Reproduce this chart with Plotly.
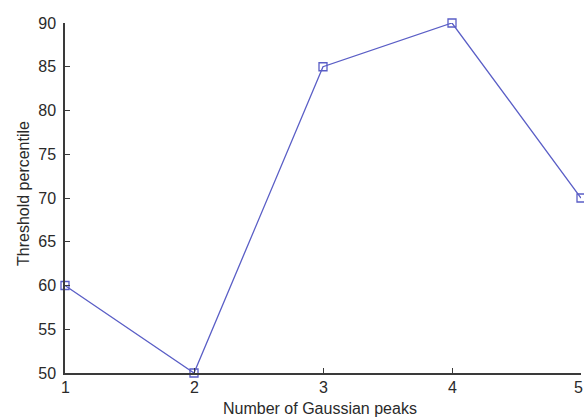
import plotly.graph_objects as go

# Number of Gaussian peaks vs. chosen threshold percentile
peaks = [1, 2, 3, 4, 5]
threshold_pct = [60, 50, 85, 90, 70]
x_ticks = [1, 2, 3, 4, 5]
y_ticks = [50, 55, 60, 65, 70, 75, 80, 85, 90]

line_color = "#5a5ec6"
axis_color = "#3a3a3a"
text_color = "#2a2a2a"
font_family = "Liberation Sans, Arial, sans-serif"
label_size = 16

fig = go.Figure()
fig.add_trace(go.Scatter(
    x=peaks,
    y=threshold_pct,
    mode="lines+markers",
    line=dict(color=line_color, width=1.3),
    marker=dict(symbol="square-open", size=8, color=line_color,
                line=dict(width=1.3, color=line_color)),
    cliponaxis=False,
    showlegend=False,
))

axis_common = dict(
    showgrid=False,
    zeroline=False,
    showline=True,
    linecolor=axis_color,
    linewidth=1.5,
    ticks="inside",
    ticklen=5,
    tickwidth=1,
    tickcolor=axis_color,
    tickfont=dict(family=font_family, size=label_size, color=text_color),
    mirror=False,
)

# x tick labels as annotations; the last one is nudged left to stay on the page
annotations = []
for v in x_ticks:
    shift = -3 if v == x_ticks[-1] else 0
    annotations.append(dict(
        x=v, y=0, xref="x", yref="paper", text=str(v), showarrow=False,
        xanchor="center", yanchor="middle", yshift=-14, xshift=shift,
        font=dict(family=font_family, size=label_size, color=text_color)))
annotations.append(dict(
    x=0.5, y=0, xref="paper", yref="paper", text="Number of Gaussian peaks",
    showarrow=False, xanchor="center", yanchor="middle", yshift=-35, xshift=-3,
    font=dict(family=font_family, size=label_size, color=text_color)))
annotations.append(dict(
    x=0, y=0.5, xref="paper", yref="paper", text="Threshold percentile",
    showarrow=False, textangle=-90, xanchor="center", yanchor="middle",
    xshift=-42, yshift=4,
    font=dict(family=font_family, size=label_size, color=text_color)))

fig.update_layout(
    width=584,
    height=417,
    margin=dict(l=65, r=3, t=23, b=44),
    paper_bgcolor="white",
    plot_bgcolor="white",
    font=dict(family=font_family, color=text_color),
    xaxis=dict(range=[1, 5], tickvals=x_ticks, showticklabels=False,
               **axis_common),
    yaxis=dict(range=[50, 90], tickvals=y_ticks,
               ticktext=[str(v) for v in y_ticks], ticklabelstandoff=4,
               **axis_common),
    annotations=annotations,
)

fig.write_html("out.html")
